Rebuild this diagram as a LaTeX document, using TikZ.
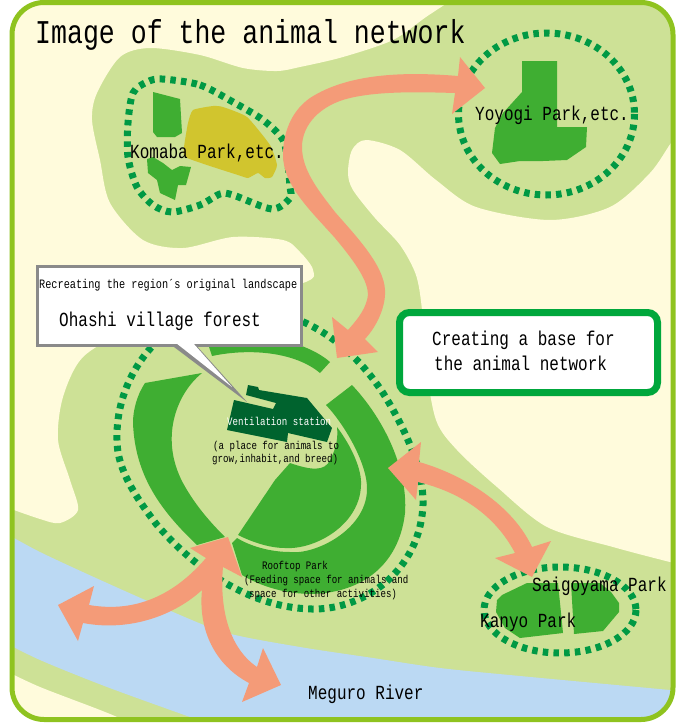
\documentclass[tikz,border=0pt]{standalone}
\usepackage{fontspec}
\usepackage{tikz}
\usetikzlibrary{shapes, positioning}
\newfontfamily\gothicfont[FakeStretch=0.8]{Liberation Mono}
\definecolor{CreamBg}{HTML}{FFFBDC}
\definecolor{LandGreen}{HTML}{CDE196}
\definecolor{RiverBlue}{HTML}{BBD9F3}
\definecolor{FrameGreen}{HTML}{8FC31F}
\definecolor{BoxGreen}{HTML}{00A73C}
\definecolor{RingGreen}{HTML}{009944}
\definecolor{ParkGreen}{HTML}{3FAE32}
\definecolor{StationGreen}{HTML}{00632E}
\definecolor{ParkYellow}{HTML}{D1C52E}
\definecolor{ArrowSalmon}{HTML}{F49B78}
\definecolor{CalloutGray}{HTML}{8A8A8A}

\begin{document}
\begin{tikzpicture}
[x=1pt, y=-1pt,
RingLine/.style={draw=RingGreen, line width=7pt, dash pattern=on 5.5pt off 5.2pt},
ParkArea/.style={fill=ParkGreen},
ArrowShape/.style={fill=ArrowSalmon},
TitleLabel/.style={anchor=base west, inner sep=0pt, font=\gothicfont\fontsize{33.2}{36}\selectfont},
BigLabel/.style={anchor=base west, inner sep=0pt, font=\gothicfont\fontsize{20}{24}\selectfont},
MidLabel/.style={anchor=base west, inner sep=0pt, font=\gothicfont\fontsize{12.8}{15}\selectfont},
SmallLabel/.style={anchor=base west, inner sep=0pt, font=\gothicfont\fontsize{11.4}{13}\selectfont}
]
\useasboundingbox (0,0) rectangle (686,723);

\begin{scope}
\clip[rounded corners=32pt] (12,2.5) rectangle (673,719.5);
\fill[LandGreen] (0,0) rectangle (686,723);
% cream ground
\fill[CreamBg] (0,505) -- (0,0) -- plot[smooth] coordinates {(452,0) (426,17) (393,40) (343,57) (300,67) (277,71) (243,68) (200,55) (150,48) (120,57) (97,93) (92,120) (100,160) (110,203) (143,240) (183,248) (233,237) (283,240) (300,252) (313,270) (303,283) (200,310) (130,330) (83,357) (63,397) (58,440) (70,480) (78,510) (60,523) (40,519) (0,505)} -- cycle;
\fill[CreamBg] (690,135) -- plot[smooth] coordinates {(680,135) (671,143) (650,173) (610,207) (550,220) (476,207) (436,180) (400,150) (366,140) (352,150) (348,173) (353,190) (375,218) (400,245) (416,275) (422,310) (425,360) (436,420) (457,450) (497,487) (547,527) (613,547) (670,562) (690,566)} -- cycle;
\fill[CreamBg] (0,730) -- plot[smooth] coordinates {(0,668) (40,687) (117,717) (130,730)} -- cycle;
% river
\fill[RiverBlue] plot[smooth] coordinates {(0,530) (40,552) (107,583) (173,612) (227,633) (300,647) (373,658) (440,668) (520,676) (670,690) (690,692)} -- (690,730) -- (200,730) -- plot[smooth] coordinates {(190,717) (107,687) (40,660) (0,640)} -- cycle;
\end{scope}

% parks
\fill[ParkYellow] plot[smooth cycle, tension=0.3] coordinates {(193,110) (213,106) (223,107) (247,117) (270,145) (277,165) (272,177) (265,178) (258,173) (248,178) (238,175) (213,167) (185,157) (184,147) (188,123)};
\fill[ParkArea] (153,92) -- (180,99) -- (182,133) -- (175,137) -- (157,137) -- (153,132) -- cycle;
\fill[ParkArea] (147,159) -- (148,173) -- (157,180) -- (160,193) -- (175,200) -- (178,185) -- (186,185) -- (191,167) -- (180,166) -- (172,170) -- (163,163) -- (153,157) -- cycle;
\fill[ParkArea] (522,61) -- (557,61) -- (557,127) -- (587,127) -- (586,147) -- (567,160) -- (543,161) -- (520,161) -- (500,164) -- (492,153) -- (495,128) -- (503,113) -- (522,92) -- cycle;
\fill[ParkArea] (497,600) -- (502,595) -- (527,583) -- (558,583) -- (563,633) -- (520,638) -- (505,628) -- (496,612) -- cycle;
\fill[ParkArea] (571,583) -- (600,583) -- (611,592) -- (619,603) -- (619,612) -- (603,631) -- (574,634) -- cycle;
\fill[ParkArea] (330,362) -- (320,373) .. controls (295,352) and (250,348) .. (212,356) -- (205,335) .. controls (250,330) and (305,340) .. (330,362) -- cycle;
\fill[ParkArea] (145,383) -- (202,373) .. controls (175,395) and (160,440) .. (183,483) .. controls (195,505) and (210,522) .. (225,537) -- (197,545) .. controls (160,510) and (135,475) .. (133,423) .. controls (133,410) and (137,395) .. (145,383) -- cycle;
\fill[ParkArea] (352,385) -- (326,405) .. controls (345,425) and (368,465) .. (367,490) .. controls (366,530) and (315,555) .. (290,552) .. controls (270,552) and (250,546) .. (237,538) -- (232,543) -- (242,575) .. controls (300,610) and (395,600) .. (405,513) .. controls (408,470) and (385,420) .. (352,385) -- cycle;
\fill[ParkArea] (238,535) -- (275,480) -- (290,463) .. controls (310,470) and (325,472) .. (330,460) .. controls (337,447) and (338,437) .. (337,427) .. controls (352,447) and (362,470) .. (361,485) .. controls (360,525) and (315,550) .. (285,548) .. controls (268,548) and (250,541) .. (238,535) -- cycle;
\fill[StationGreen] (248,385) -- (258,387) -- (259,390) -- (307,398) -- (332,428) -- (327,442) -- (288,433) -- (287,442) -- (227,430) -- (234,400) -- (273,409) -- (276,403) -- (246,395) -- cycle;

% dotted rings
\draw[RingLine] plot[smooth cycle] coordinates {(162,79) (200,85) (233,102) (263,120) (283,140) (288,165) (290,187) (290,198) (272,209) (233,195) (220,194) (200,205) (172,212) (153,205) (137,187) (128,157) (128,123) (133,93) (147,82)};
\draw[RingLine] (546.5,114) ellipse (88 and 81);
\draw[RingLine] (230,308) .. controls (290,305) and (345,335) .. (383,393) .. controls (405,428) and (424,470) .. (423,505) .. controls (420,570) and (365,610) .. (312,609) .. controls (260,608) and (205,580) .. (157,525) .. controls (130,490) and (117,465) .. (117,440) .. controls (115,370) and (170,310) .. (230,308) -- cycle;
\draw[RingLine] (560,610) ellipse (76 and 43);

% arrows
\fill[ArrowShape] (485,88) -- (460,57) -- (458,76) .. controls (410,72) and (350,72) .. (310,98) .. controls (290,112) and (283,135) .. (283,155) .. controls (283,185) and (310,210) .. (335,238) .. controls (355,262) and (372,285) .. (367,300) .. controls (364,312) and (355,322) .. (348,330) -- (332,317) -- (337,358) -- (378,352) -- (365,339) .. controls (378,325) and (386,305) .. (385,290) .. controls (384,265) and (355,235) .. (335,212) .. controls (318,190) and (302,170) .. (302,147) .. controls (302,125) and (320,105) .. (350,98) .. controls (380,91) and (420,92) .. (455,93) -- (452,114) -- cycle;
\fill[ArrowShape] (388,468) -- (421,442) -- (419,462) .. controls (455,472) and (510,500) .. (532,547) -- (551,541) -- (532,577) -- (495,558) -- (515,553) .. controls (495,515) and (460,492) .. (418,482) -- (416,500) -- cycle;
\fill[ArrowShape] (228,537) -- (242,577) -- (223,567) .. controls (220,600) and (225,645) .. (257,667) -- (263,648) -- (281,685) -- (242,702) -- (249,683) .. controls (215,665) and (198,630) .. (202,590) .. controls (175,615) and (130,632) .. (83,623) -- (78,641) -- (58,605) -- (94,586) -- (89,605) .. controls (130,612) and (170,600) .. (206,558) -- (190,548) -- cycle;

% frame and boxes
\draw[FrameGreen, line width=5pt, rounded corners=32pt] (12,2.5) rectangle (673,719.5);
\node[draw=BoxGreen, line width=7pt, fill=white, rounded corners=10pt, minimum width=258pt, minimum height=80pt, inner sep=0pt] (BaseBox) at (528.5,352.5) {};
\node[draw=CalloutGray, line width=3pt, fill=white, minimum width=264pt, minimum height=79pt, inner sep=0pt] (CalloutBox) at (169.5,306) {};
\fill[CalloutGray] (170,344) -- (247,402) -- (195,344) -- cycle;
\fill[white] (176,343) -- (232,387) -- (193,343) -- cycle;

% labels
\node[TitleLabel] (Title) at (35,43) {Image of the animal network};
\node[BigLabel] (Komaba) at (130,158) {Komaba Park,etc.};
\node[BigLabel] (Yoyogi) at (475,120) {Yoyogi Park,etc.};
\node[MidLabel] (Recreating) at (39,288) {Recreating the region´s original landscape};
\node[BigLabel] (Ohashi) at (59,326) {Ohashi village forest};
\node[BigLabel] (BaseOne) at (432,345) {Creating a base for};
\node[BigLabel] (BaseTwo) at (434,370) {the animal network};
\node[SmallLabel, text=white] (Station) at (227,425) {Ventilation station};
\node[SmallLabel] (PlaceOne) at (213,449) {(a place for animals to};
\node[SmallLabel] (PlaceTwo) at (212,462) {grow,inhabit,and breed)};
\node[SmallLabel] (Rooftop) at (262,569) {Rooftop Park};
\node[SmallLabel] (FeedOne) at (244,583) {(Feeding space for animals and};
\node[SmallLabel] (FeedTwo) at (249,597) {space for other activities)};
\node[BigLabel] (Saigoyama) at (532,591) {Saigoyama Park};
\node[BigLabel] (Kanyo) at (480,627) {Kanyo Park};
\node[BigLabel] (Meguro) at (308,699) {Meguro River};
\end{tikzpicture}
\end{document}
